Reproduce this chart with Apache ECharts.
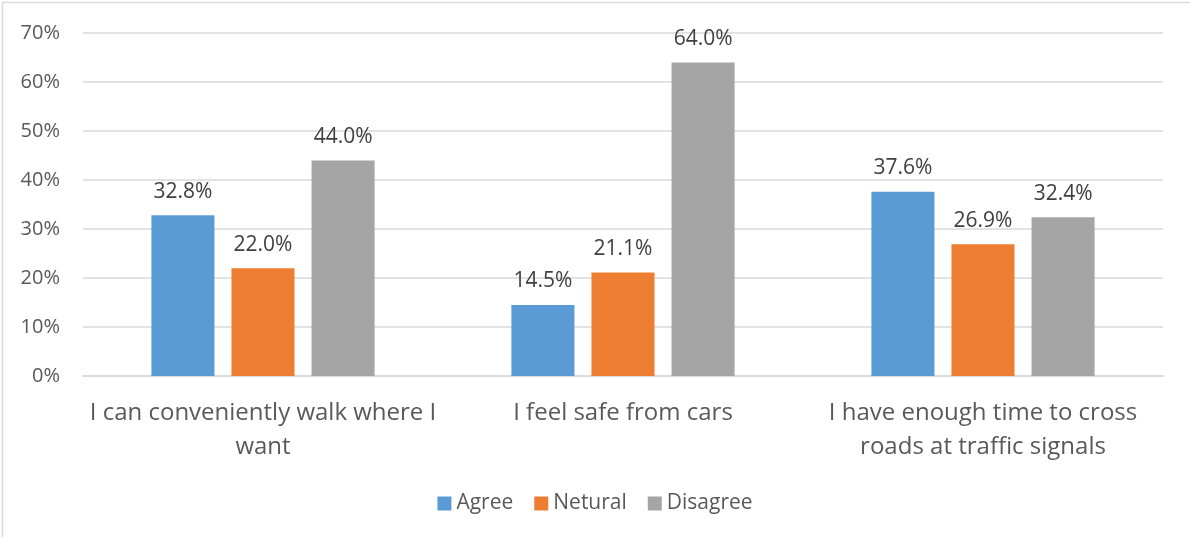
<!DOCTYPE html>
<html>
<head>
<meta charset="utf-8">
<script src="https://cdn.jsdelivr.net/npm/echarts@6/dist/echarts.min.js"></script>
<style>
  html, body { margin: 0; padding: 0; background: #fff; }
  #chart { width: 1190px; height: 537px; }
</style>
</head>
<body>
<div id="chart"></div>
<script>
// Survey statements (axis labels, wrapped as printed)
const categories = [
  'I can conveniently walk where I\nwant',
  'I feel safe from cars',
  'I have enough time to cross\nroads at traffic signals'
];
// Share of respondents per answer, in percent
const agree    = [32.8, 14.5, 37.6];
const netural  = [22.0, 21.1, 26.9];
const disagree = [44.0, 64.0, 32.4];
const seriesNames = ['Agree', 'Netural', 'Disagree'];
const colors = ['#5B9BD5', '#ED7D31', '#A5A5A5'];
const yTicks = [0, 10, 20, 30, 40, 50, 60, 70];

const FONT = 'Open Sans';
const TEXT = '#595959';

const chart = echarts.init(document.getElementById('chart'), null, { renderer: 'canvas' });

function barSeries(name, data, color) {
  return {
    name: name,
    type: 'bar',
    data: data,
    barGap: '27%',
    barCategoryGap: '38%',
    itemStyle: { color: color },
    label: {
      show: true,
      position: 'top',
      distance: 13,
      formatter: p => p.value.toFixed(1) + '%',
      color: '#404040',
      fontFamily: FONT,
      fontSize: 21
    }
  };
}

chart.setOption({
  animation: false,
  backgroundColor: '#fff',
  graphic: [{
    type: 'rect',
    shape: { x: 2.5, y: 2.5, width: 1200, height: 600 },
    style: { fill: 'none', stroke: '#D9D9D9', lineWidth: 1.5 },
    silent: true
  }],
  grid: { left: 83, right: 27, top: 33, bottom: 161 },
  legend: {
    data: seriesNames,
    bottom: 18,
    left: 'center',
    itemWidth: 14,
    itemHeight: 14,
    itemGap: 21,
    icon: 'rect',
    textStyle: { color: TEXT, fontFamily: FONT, fontSize: 21 }
  },
  xAxis: {
    type: 'category',
    data: categories,
    axisLine: { lineStyle: { color: '#D9D9D9', width: 1.5 } },
    axisTick: { show: false },
    axisLabel: {
      color: TEXT,
      fontFamily: FONT,
      fontSize: 24,
      lineHeight: 34,
      margin: 20,
      interval: 0
    }
  },
  yAxis: {
    type: 'value',
    min: yTicks[0],
    max: yTicks[yTicks.length - 1],
    interval: 10,
    axisLine: { show: false },
    axisTick: { show: false },
    splitLine: { lineStyle: { color: '#D9D9D9', width: 1.5 } },
    axisLabel: {
      color: TEXT,
      fontFamily: FONT,
      fontSize: 20,
      margin: 23,
      formatter: v => v + '%'
    }
  },
  series: [
    barSeries(seriesNames[0], agree, colors[0]),
    barSeries(seriesNames[1], netural, colors[1]),
    barSeries(seriesNames[2], disagree, colors[2])
  ]
});
</script>
</body>
</html>
